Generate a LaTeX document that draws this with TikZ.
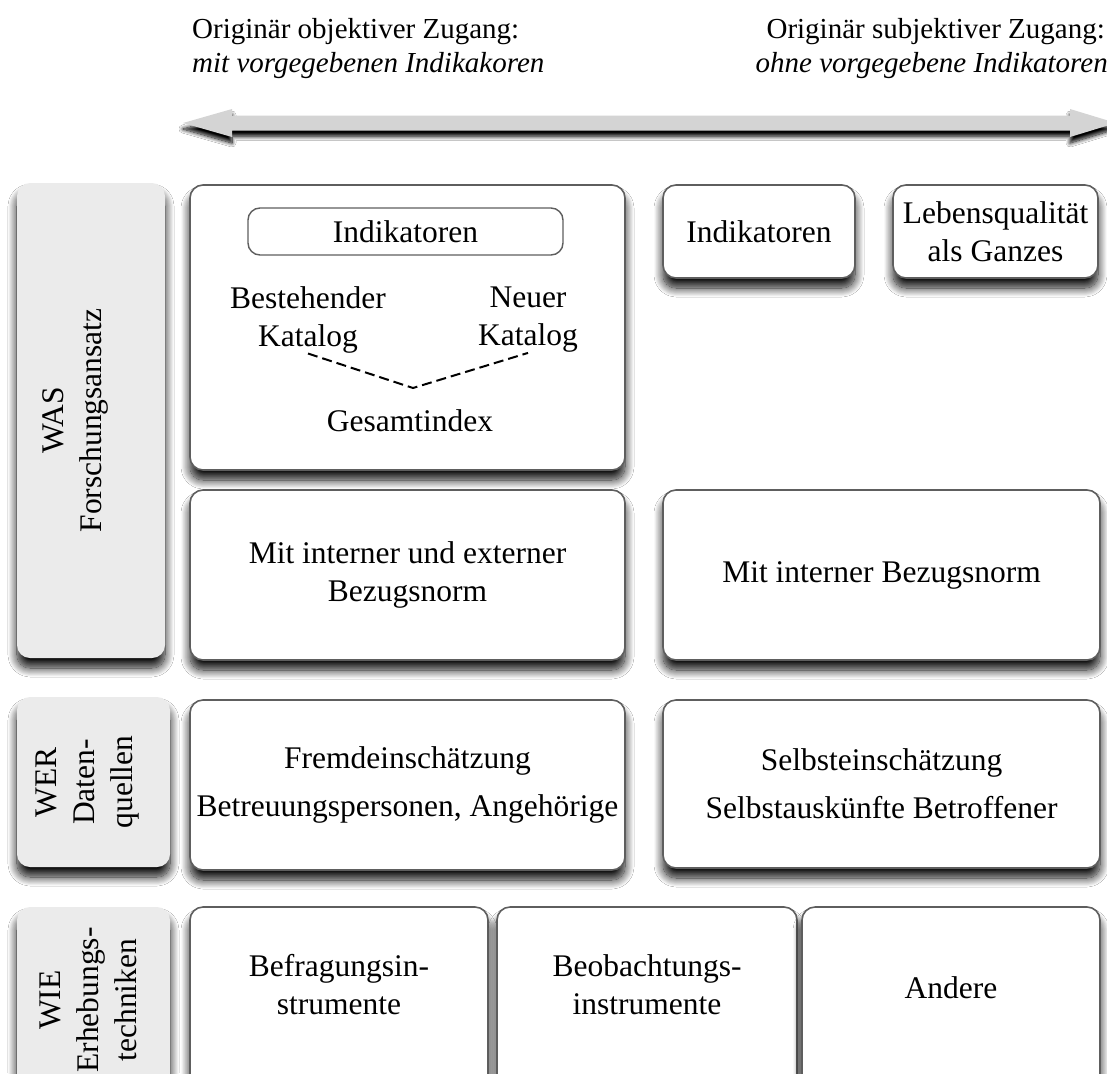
\documentclass[tikz,border=0pt]{standalone}
\usepackage{fontspec}
\setmainfont{Liberation Serif}
\usetikzlibrary{shadows.blur}

\definecolor{tabgray}{HTML}{EBEBEB}
\definecolor{edgegray}{HTML}{5E5E5E}
\definecolor{arrowgray}{HTML}{D4D4D4}

\tikzset{
  softshadow/.style={blur shadow={shadow xshift=0pt, shadow yshift=-10pt,
      shadow blur radius=9pt, shadow blur steps=14, shadow opacity=95}},
  barshadow/.style={blur shadow={shadow xshift=0pt, shadow yshift=-6pt,
      shadow blur radius=4pt, shadow blur steps=10, shadow opacity=100}},
  card/.style={draw=edgegray, line width=1.6pt, rounded corners=13pt,
      fill=white, inner sep=0pt, softshadow},
  tab/.style={fill=tabgray, rounded corners=13pt, inner sep=0pt, softshadow},
  inner/.style={draw=edgegray, line width=1.4pt, rounded corners=12pt,
      fill=white, inner sep=0pt},
  txt/.style={align=center, inner sep=0pt, font=\fontsize{31.5}{38}\selectfont},
  head/.style={inner sep=0pt, font=\fontsize{29}{35}\selectfont},
  joinline/.style={dashed, dash pattern=on 10pt off 5pt, line width=2pt},
}

\begin{document}
\begin{tikzpicture}[x=1pt, y=-1pt]
\useasboundingbox (0,0) rectangle (1107,1073);
\clip (0,0) rectangle (1107,1073);
\fill[white] (0,0) rectangle (1107,1073);

% headings of the two approaches
\node[head, anchor=base west] (objA) at (192,38) {Originär objektiver Zugang:};
\node[head, anchor=base west] (objB) at (192,72) {\itshape mit vorgegebenen Indikakoren};
\node[head, anchor=base east] (subA) at (1105,38) {Originär subjektiver Zugang:};
\node[head, anchor=base east] (subB) at (1108,72) {\itshape ohne vorgegebene Indikatoren};

% double-headed scale arrow
\fill[arrowgray, barshadow]
  (183,123) -- (232,109) -- (232,115.5) -- (1070,115.5) -- (1070,109)
  -- (1116,123) -- (1070,137) -- (1070,130.5) -- (232,130.5) -- (232,137) -- cycle;

% row labels
\node[tab, minimum width=148pt, minimum height=475pt] (was) at (91,420.5) {};
\node[txt, rotate=90] at (75,420.5) {WAS\\Forschungsansatz};
\node[tab, minimum width=153pt, minimum height=170pt] (wer) at (93.5,782) {};
\node[txt, rotate=90] at (88,782) {WER\\Daten-\\quellen};
\node[tab, minimum width=153pt, minimum height=186pt] (wie) at (93.5,1000) {};
\node[txt, rotate=90] at (88,1000) {WIE\\Erhebungs-\\techniken};

% WAS row
\node[card, minimum width=435pt, minimum height=285pt] (objbox) at (407.5,327.5) {};
\node[inner, minimum width=315pt, minimum height=47pt] (indA) at (405.5,231.5) {};
\node[txt] at (indA) {Indikatoren};
\node[txt] (bk) at (308,320) {Bestehender\\Katalog};
\node[txt] (nk) at (528,320) {Neuer\\Katalog};
\coordinate (apex) at (413,388);
\node[txt] (gi) at (410,421) {Gesamtindex};
\draw[joinline] (bk.south) -- (apex) -- (nk.south);

\node[card, minimum width=192pt, minimum height=93pt] (indB) at (759,231.5) {};
\node[txt] at (indB) {Indikatoren};
\node[card, minimum width=205pt, minimum height=93pt] (lq) at (995.5,231.5) {};
\node[txt] at (lq) {Lebensqualität\\als Ganzes};

\node[card, minimum width=435pt, minimum height=170pt] (normA) at (407.5,575) {};
\node[txt] at (normA) {Mit interner und externer\\Bezugsnorm};
\node[card, minimum width=437pt, minimum height=170pt] (normB) at (881.5,575) {};
\node[txt] at (normB) {Mit interner Bezugsnorm};

% WER row
\node[card, minimum width=435pt, minimum height=170pt] (fremd) at (407.5,785) {};
\node[txt] at (fremd) {Fremdeinschätzung\\[10pt]Betreuungspersonen, Angehörige};
\node[card, minimum width=437pt, minimum height=168pt] (selbst) at (881.5,784) {};
\node[txt] at (selbst) {Selbsteinschätzung\\[10pt]Selbstauskünfte Betroffener};

% WIE row
\node[card, minimum width=298pt, minimum height=190pt] (befr) at (339,1002) {};
\node[txt] at (339,985) {Befragungsin-\\strumente};
\node[card, minimum width=300pt, minimum height=190pt] (beob) at (647,1002) {};
\node[txt] at (647,985) {Beobachtungs-\\instrumente};
\node[card, minimum width=298pt, minimum height=190pt] (andere) at (951,1002) {};
\node[txt] at (951,988) {Andere};
\end{tikzpicture}
\end{document}
